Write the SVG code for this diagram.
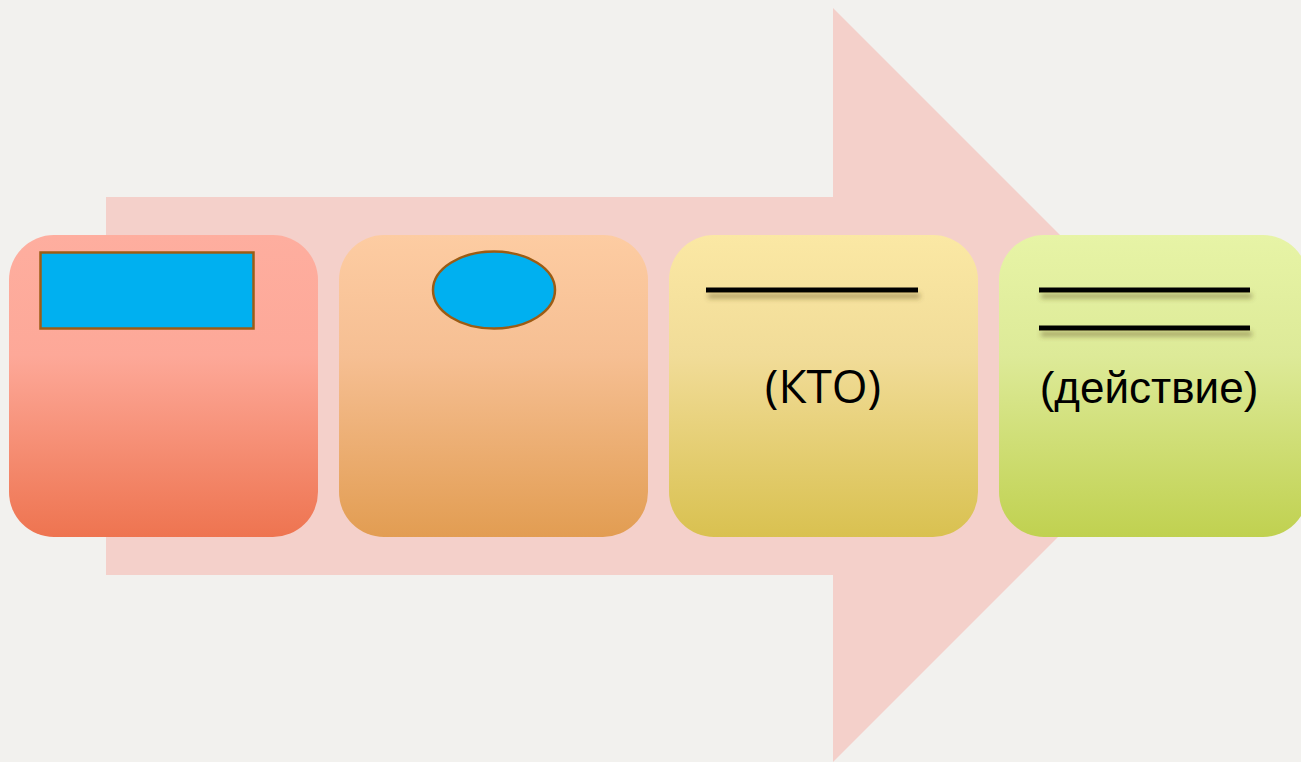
<svg xmlns="http://www.w3.org/2000/svg" width="1301" height="762" viewBox="0 0 1301 762">
<defs>
<linearGradient id="g1" x1="0" y1="0" x2="0" y2="1"><stop offset="0" stop-color="#FEAE9F"/><stop offset="0.4" stop-color="#FDA898"/><stop offset="1" stop-color="#EE7450"/></linearGradient>
<linearGradient id="g2" x1="0" y1="0" x2="0" y2="1"><stop offset="0" stop-color="#FDCCA2"/><stop offset="0.4" stop-color="#F6BF93"/><stop offset="1" stop-color="#E29D52"/></linearGradient>
<linearGradient id="g3" x1="0" y1="0" x2="0" y2="1"><stop offset="0" stop-color="#FBE8A4"/><stop offset="0.4" stop-color="#F1DC98"/><stop offset="1" stop-color="#D9C150"/></linearGradient>
<linearGradient id="g4" x1="0" y1="0" x2="0" y2="1"><stop offset="0" stop-color="#E7F4A6"/><stop offset="0.4" stop-color="#DDEA98"/><stop offset="1" stop-color="#C0D150"/></linearGradient>
<filter id="sh" x="-10%" y="-200%" width="120%" height="600%"><feDropShadow dx="2" dy="6" stdDeviation="2.5" flood-color="#5a4a20" flood-opacity="0.45"/></filter>
</defs>
<style>
.box{stroke:none}
.ln{fill:#000;filter:url(#sh)}
.t{fill:#000;text-anchor:middle}
</style>
<rect width="1301" height="762" fill="#F2F1EE"/>
<g id="arrow"><polygon points="106,197 833,197 833,8 1210,385 833,762 833,575 106,575" fill="#F4D0CA"/></g>
<g id="connectors"></g>
<g id="node1">
<rect class="box" x="9" y="235" width="309" height="302" rx="45" fill="url(#g1)"/>
<rect x="40.5" y="252.5" width="213" height="76" fill="#00B0F0" stroke="#9C5C14" stroke-width="2.5"/>
</g>
<g id="node2">
<rect class="box" x="339" y="235" width="309" height="302" rx="45" fill="url(#g2)"/>
<ellipse cx="494" cy="290" rx="61" ry="38.5" fill="#00B0F0" stroke="#9C5C14" stroke-width="2.5"/>
</g>
<g id="node3">
<rect class="box" x="669" y="235" width="309" height="302" rx="45" fill="url(#g3)"/>
<rect class="ln" x="706" y="287.5" width="212" height="5"/>
<text class="t" x="823" y="403" font-family="'Open Sans', 'DejaVu Sans', sans-serif" font-size="46">(КТО)</text>
</g>
<g id="node4">
<rect class="box" x="999" y="235" width="309" height="302" rx="45" fill="url(#g4)"/>
<rect class="ln" x="1039" y="287.5" width="211" height="5"/>
<rect class="ln" x="1039" y="325.5" width="211" height="5"/>
<text class="t" x="1149" y="403" font-family="'Liberation Sans', Arial, sans-serif" font-size="44">(действие)</text>
</g>
</svg>
